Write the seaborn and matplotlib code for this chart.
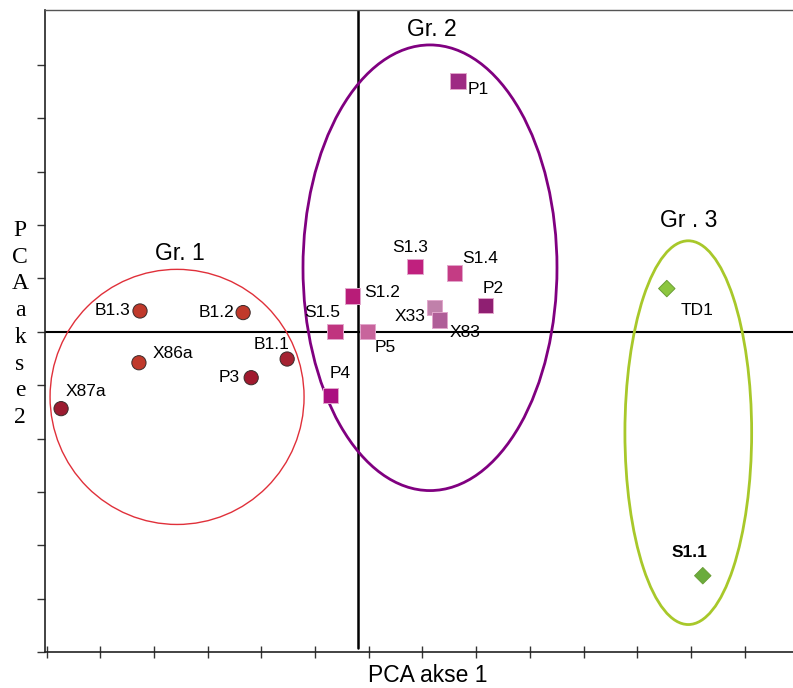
import numpy as np
import pandas as pd
import seaborn as sns
import matplotlib.pyplot as plt
from matplotlib.patches import Ellipse

# PCA scores
labels = ["B1.3", "B1.2", "B1.1", "X86a", "P3", "X87a",
          "P1", "S1.3", "S1.4", "S1.2", "P2", "X33", "X83", "S1.5", "P5", "P4",
          "TD1", "S1.1"]
pc1 = [-4.06, -2.14, -1.32, -4.08, -1.99, -5.53,
       1.86, 1.06, 1.79, -0.11, 2.38, 1.42, 1.51, -0.43, 0.17, -0.52,
       5.75, 6.42]
pc2 = [0.39, 0.36, -0.51, -0.58, -0.86, -1.44,
       4.70, 1.22, 1.10, 0.67, 0.49, 0.45, 0.22, 0.0, 0.0, -1.20,
       0.81, -4.57]
groups = ["Gr. 1"] * 6 + ["Gr. 2"] * 10 + ["Gr. 3"] * 2
colors = ["#c0392b", "#c0392b", "#a52232", "#c0392b", "#a0192e", "#9b1b30",
          "#9e2a83", "#c0207e", "#c43c84", "#b81c78", "#8f1f72", "#c080aa",
          "#b05e98", "#c0347f", "#c8649c", "#ab0f80",
          "#8cc63f", "#6aac3c"]
group_edges = {"Gr. 1": "#3a2a2a", "Gr. 2": "#e2a6cc", "Gr. 3": "#6a9e35"}

# label offsets in pixels (dx, dy) and alignment
offsets = [(-10, 0, "right"), (-9, 0, "right"), (-16, 15, "center"),
           (14, 9, "left"), (-11, 0, "right"), (5, 17, "left"),
           (10, -9, "left"), (-5, 19, "center"), (8, 15, "left"),
           (12, 4, "left"), (7, 17, "center"), (-24, -9, "center"),
           (10, -12, "left"), (-13, 19, "center"), (7, -16, "left"),
           (10, 22, "center"), (14, -22, "left"), (-13, 23, "center")]

# group ellipses: name, centre, width, height, colour, linewidth, label pos
ellipses = [("Gr. 1", (-3.37, -1.22), 4.73, 4.78, "#e0303a", 1.0, (-3.31, 1.46)),
            ("Gr. 2", (1.34, 1.20), 4.73, 8.35, "#800080", 2.0, (1.38, 5.66)),
            ("Gr . 3", (6.15, -1.89), 2.36, 7.19, "#a8c82a", 2.0, (6.15, 2.08))]

df = pd.DataFrame({"label": labels, "pc1": pc1, "pc2": pc2, "group": groups})

sns.set_style("white")
plt.rcParams["font.family"] = ["Liberation Sans", "DejaVu Sans"]
plt.rcParams["text.color"] = "black"

fig = plt.figure(figsize=(7.93, 6.88), dpi=100)
ax = fig.add_axes([0.0567, 0.0523, 0.9433, 0.9332])

for name, (cx, cy), w, h, col, lw, (tx, ty) in ellipses:
    ax.add_patch(Ellipse((cx, cy), w, h, fill=False, edgecolor=col, lw=lw, zorder=2))
    ax.text(tx, ty, name, fontsize=16.5, ha="center", va="center")

ax.axhline(0, color="black", lw=1.5, zorder=1)
ax.axvline(0, color="black", lw=1.8, ymin=0.006, zorder=1)

sns.scatterplot(data=df, x="pc1", y="pc2", hue="label",
                palette=dict(zip(labels, colors)),
                style="group", markers={"Gr. 1": "o", "Gr. 2": "s", "Gr. 3": "D"},
                size="group", sizes={"Gr. 1": 105, "Gr. 2": 120, "Gr. 3": 70},
                edgecolor=[group_edges[g] for g in groups], linewidth=0.7,
                legend=False, ax=ax, zorder=3)

for lab, x, y, (dx, dy, ha) in zip(labels, pc1, pc2, offsets):
    ax.annotate(lab, (x, y), xytext=(dx, dy), textcoords="offset pixels",
                ha=ha, va="center", fontsize=12.5,
                fontweight="bold" if lab == "S1.1" else "normal")

ax.set_xlim(-5.83, 8.1)
ax.set_ylim(-6.0, 6.03)
ax.set_xticks(np.arange(-5.8, 8.1, 1.0))
ax.set_yticks(np.arange(-6, 6, 1.0))
ax.set_xticklabels([])
ax.set_yticklabels([])
ax.tick_params(axis="x", direction="inout", length=8, width=1, color="#333333", bottom=True)
ax.tick_params(axis="y", direction="out", length=6, width=1, color="#333333", left=True)

for side in ["left", "bottom"]:
    ax.spines[side].set_color("#222222")
    ax.spines[side].set_linewidth(1.2)
ax.spines["top"].set_color("#555555")
ax.spines["top"].set_linewidth(1.0)
ax.spines["right"].set_visible(False)

ax.set_xlabel("")
ax.set_ylabel("")
fig.text(428 / 793, 1 - 676 / 688, "PCA akse 1", fontsize=16.5, ha="center", va="center")
fig.text(20 / 793, 1 - 324 / 688, "\n".join("PCAakse2"), fontsize=17,
         family="Liberation Serif", ha="center", va="center", linespacing=1.36)

fig.savefig("out.png", dpi=100)
